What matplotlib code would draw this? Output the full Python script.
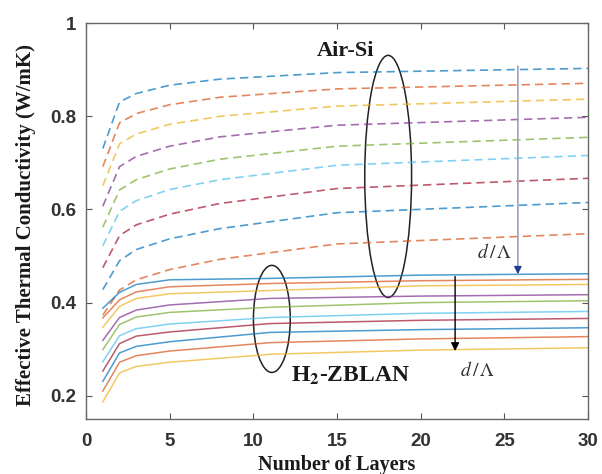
import matplotlib
matplotlib.use("Agg")
import matplotlib.pyplot as plt
from matplotlib.patches import Ellipse

# MATLAB default colour order
colors = ["#0072BD", "#D95319", "#EDB120", "#7E2F8E", "#77AC30", "#4DBEEE", "#A2142F"]

# Air-Si (dashed), values
air_x = [1, 2, 3, 5, 8, 15, 30]
air_si = [
    [0.731, 0.831, 0.849, 0.867, 0.880, 0.894, 0.903],
    [0.692, 0.786, 0.806, 0.825, 0.841, 0.859, 0.871],
    [0.651, 0.741, 0.762, 0.783, 0.800, 0.822, 0.837],
    [0.607, 0.692, 0.714, 0.736, 0.756, 0.781, 0.798],
    [0.562, 0.642, 0.664, 0.687, 0.708, 0.736, 0.755],
    [0.522, 0.596, 0.619, 0.643, 0.664, 0.695, 0.716],
    [0.475, 0.544, 0.567, 0.590, 0.613, 0.645, 0.667],
    [0.428, 0.490, 0.514, 0.537, 0.559, 0.593, 0.615],
    [0.373, 0.427, 0.449, 0.471, 0.493, 0.526, 0.548],
]

# H2-ZBLAN (solid)
zb_x = [1, 2, 3, 5, 11, 20, 30]
h2_zblan = [
    [0.388, 0.422, 0.439, 0.449, 0.452, 0.459, 0.462],
    [0.367, 0.406, 0.423, 0.434, 0.441, 0.447, 0.450],
    [0.347, 0.392, 0.409, 0.419, 0.426, 0.436, 0.439],
    [0.319, 0.368, 0.384, 0.395, 0.409, 0.414, 0.417],
    [0.299, 0.353, 0.369, 0.379, 0.390, 0.400, 0.404],
    [0.273, 0.329, 0.344, 0.354, 0.368, 0.377, 0.381],
    [0.253, 0.312, 0.328, 0.337, 0.355, 0.362, 0.366],
    [0.231, 0.292, 0.306, 0.316, 0.336, 0.342, 0.346],
    [0.210, 0.272, 0.286, 0.296, 0.314, 0.322, 0.327],
    [0.187, 0.249, 0.263, 0.272, 0.289, 0.298, 0.303],
]

serif = ["Liberation Serif", "DejaVu Serif"]

fig = plt.figure(figsize=(6.02, 4.74), dpi=100)
ax = fig.add_axes([0.143, 0.116, 0.834, 0.835])

for i, ys in enumerate(air_si):
    ax.plot(air_x, ys, ls=(0, (5, 3)), lw=1.2, color=colors[i % 7], alpha=0.7)
for i, ys in enumerate(h2_zblan):
    ax.plot(zb_x, ys, lw=1.1, color=colors[i % 7], alpha=0.7)

ax.add_patch(Ellipse((18.05, 0.671), 2.8, 0.52, fill=False, ec="#222222", lw=1.1))
ax.add_patch(Ellipse((11.1, 0.365), 2.2, 0.23, fill=False, ec="#222222", lw=1.1))

ax.text(15.5, 0.94, "Air-Si", family=serif, weight="bold", fontsize=16,
        ha="center", va="center", color="#1a1a1a")
ax.text(15.8, 0.243, r"H$_\mathbf{2}$-ZBLAN", family=serif, weight="bold",
        fontsize=17, ha="center", va="center", color="#1a1a1a",
        math_fontfamily="stix")

# d/Lambda arrows
ax.annotate("", xy=(25.8, 0.47), xytext=(25.8, 0.914),
            arrowprops=dict(arrowstyle="-", color="#9da2bd", lw=1.2))
ax.annotate("", xy=(25.8, 0.455), xytext=(25.8, 0.475),
            arrowprops=dict(arrowstyle="-|>", fc="#1f3a8a", ec="#1f3a8a",
                            lw=1.0, mutation_scale=11))
ax.annotate("", xy=(22.05, 0.29), xytext=(22.05, 0.462),
            arrowprops=dict(arrowstyle="-|>", color="black", lw=1.0,
                            mutation_scale=12))
ax.text(24.4, 0.508, r"$d\,/\,\Lambda$", fontsize=14, ha="center", va="center",
        color="#333333", math_fontfamily="stix")
ax.text(23.4, 0.254, r"$d\,/\,\Lambda$", fontsize=14, ha="center", va="center",
        color="#333333", math_fontfamily="stix")

ax.set_xlim(0, 30)
ax.set_ylim(0.15, 1.0)
ax.set_xticks([0, 5, 10, 15, 20, 25, 30])
ax.set_yticks([0.2, 0.4, 0.6, 0.8, 1.0])
ax.set_yticklabels(["0.2", "0.4", "0.6", "0.8", "1"])
ax.tick_params(direction="in", top=True, right=True, length=4, width=0.8,
               color="#555555", labelsize=13.5)
ax.tick_params(axis="x", pad=10)
ax.tick_params(axis="y", pad=7)
for lab in ax.get_xticklabels() + ax.get_yticklabels():
    lab.set_family(["Liberation Sans", "DejaVu Sans"])
    lab.set_weight("bold")
    lab.set_color("#333333")
for sp in ax.spines.values():
    sp.set_color("#666666")
    sp.set_linewidth(1.0)

ax.set_xlabel("Number of Layers", family=serif, weight="bold", fontsize=14.5,
              color="#1a1a1a")
ax.set_ylabel("Effective Thermal Conductivity (W/mK)", family=serif,
              weight="bold", fontsize=15, color="#1a1a1a")
ax.xaxis.set_label_coords(0.5, -0.09)
ax.yaxis.set_label_coords(-0.10, 0.49)

fig.savefig("out.png", dpi=100)
